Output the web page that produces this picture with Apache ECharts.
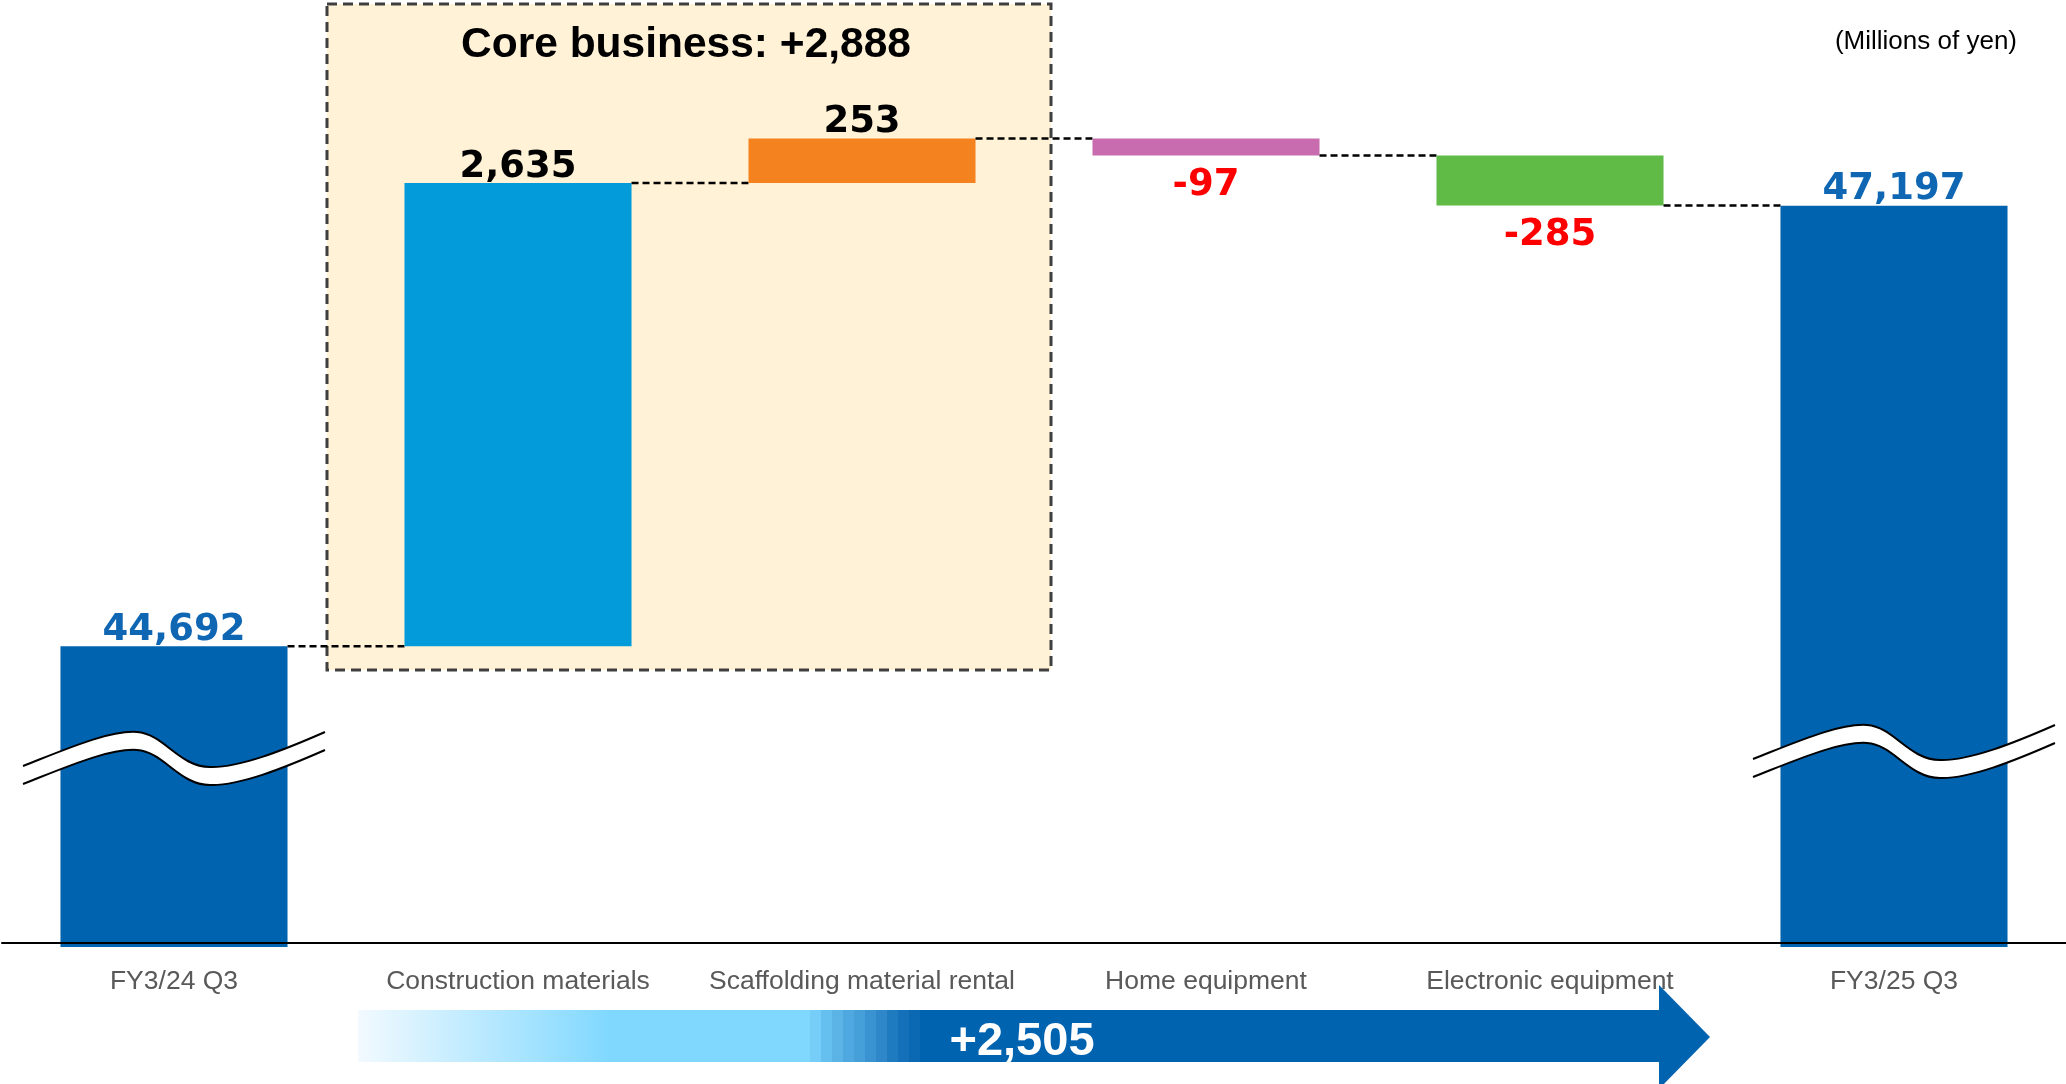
<!DOCTYPE html>
<html>
<head>
<meta charset="utf-8">
<script src="https://cdn.jsdelivr.net/npm/echarts@6/dist/echarts.min.js"></script>
<style>
html,body{margin:0;padding:0;background:#ffffff;}
#chart{width:2066px;height:1084px;}
</style>
</head>
<body>
<div id="chart"></div>
<script>
// ---- data ----
const categories = ['FY3/24 Q3', 'Construction materials', 'Scaffolding material rental', 'Home equipment', 'Electronic equipment', 'FY3/25 Q3'];
const startTotal = 44692;
const changes = [2635, 253, -97, -285];
const endTotal = 47197;
const coreLabel = 'Core business: +2,888';
const totalChangeLabel = '+2,505';
const unitLabel = '(Millions of yen)';

// ---- styles ----
const barColors = ['#0063B0', '#039BDA', '#F4821F', '#C86CAF', '#5FBB46', '#0063B0'];
const Y_MIN = 43005, Y_MAX = 48367;
const LABEL_FONT = 'bold 37px "DejaVu Sans", Verdana, sans-serif';

// build waterfall rows: [index, from, to, level]
const rows = [];
rows.push([0, Y_MIN, startTotal, startTotal]);
let run = startTotal;
changes.forEach(function (d, k) {
  const lo = run; run += d;
  rows.push([k + 1, lo, run, run]);
});
rows.push([categories.length - 1, Y_MIN, endTotal, endTotal]);

function labelFor(i) {
  if (i === 0) return { text: startTotal.toLocaleString('en-US'), color: '#0F66B3', above: true };
  if (i === categories.length - 1) return { text: endTotal.toLocaleString('en-US'), color: '#0F66B3', above: true };
  const d = changes[i - 1];
  return d >= 0 ? { text: d.toLocaleString('en-US'), color: '#000000', above: true }
                : { text: d.toLocaleString('en-US'), color: '#FF0000', above: false };
}

// break mark (wavy gap) shapes, relative to bar centre and axis line
const breakStyle = [{ dx: 0, dy: -177 }, { dx: 10, dy: -184 }];
function breakPaths(cx, y) {
  function P(px, py) { return (cx + px).toFixed(1) + ' ' + (y + py).toFixed(1); }
  const top = 'M' + P(-151, 0) + ' C' + P(-110, -16) + ' ' + P(-65, -36) + ' ' + P(-37, -34) +
              ' C' + P(-10, -32) + ' ' + P(5, 1) + ' ' + P(36, 1) +
              ' C' + P(65, 2) + ' ' + P(110, -16) + ' ' + P(151, -34);
  const bottom = 'M' + P(-151, 18) + ' C' + P(-110, 2) + ' ' + P(-65, -18) + ' ' + P(-37, -16) +
              ' C' + P(-10, -14) + ' ' + P(5, 19) + ' ' + P(36, 19) +
              ' C' + P(65, 20) + ' ' + P(110, 2) + ' ' + P(151, -16);
  const fill = top + ' L' + P(151, -16) + ' C' + P(110, 2) + ' ' + P(65, 20) + ' ' + P(36, 19) +
              ' C' + P(5, 19) + ' ' + P(-10, -14) + ' ' + P(-37, -16) +
              ' C' + P(-65, -18) + ' ' + P(-110, 2) + ' ' + P(-151, 18) + ' Z';
  return { top: top, bottom: bottom, fill: fill };
}

function renderItem(params, api) {
  const i = api.value(0), a = api.value(1), b = api.value(2), level = api.value(3);
  const band = api.size([1, 0])[0];
  const bw = band * 0.66;
  const pa = api.coord([i, a]), pb = api.coord([i, b]);
  const cx = pa[0], x0 = cx - bw / 2;
  let top = Math.min(pa[1], pb[1]);
  let bot = Math.max(pa[1], pb[1]);
  const isTotal = (i === 0 || i === categories.length - 1);
  if (isTotal) bot += 4;
  const kids = [{
    type: 'rect', shape: { x: x0, y: top, width: bw, height: bot - top },
    style: { fill: barColors[i] }
  }];
  // connector to next bar
  if (i < categories.length - 1) {
    const pn = api.coord([i + 1, level]);
    kids.push({
      type: 'line',
      shape: { x1: x0 + bw, y1: pn[1], x2: pn[0] - bw / 2, y2: pn[1] },
      style: { stroke: '#000000', lineWidth: 2.5, lineDash: [7, 4] }
    });
  }
  // value label
  const lb = labelFor(i);
  kids.push({
    type: 'text', x: cx, y: lb.above ? top - 16 : bot + 30, z2: 10,
    style: { text: lb.text, fill: lb.color, font: LABEL_FONT, align: 'center', verticalAlign: 'middle' }
  });
  // break marks on total bars
  if (isTotal) {
    const bs = breakStyle[i === 0 ? 0 : 1];
    const axisY = api.coord([i, Y_MIN])[1];
    const bp = breakPaths(cx + bs.dx, axisY + bs.dy);
    kids.push({ type: 'path', shape: { pathData: bp.fill }, style: { fill: '#ffffff', stroke: null }, z2: 5 });
    kids.push({ type: 'path', shape: { pathData: bp.top }, style: { fill: null, stroke: '#000000', lineWidth: 2 }, z2: 6 });
    kids.push({ type: 'path', shape: { pathData: bp.bottom }, style: { fill: null, stroke: '#000000', lineWidth: 2 }, z2: 6 });
  }
  return { type: 'group', children: kids };
}

// stepped gradient for the bottom arrow
function arrowStops() {
  const x0 = 358, w = 1302;
  const s = [];
  function add(px, c) { s.push({ offset: Math.min(1, (px - x0) / w), color: c }); }
  add(358, '#F2FAFF');
  add(610, '#80D8FF');
  add(810, '#80D8FF');
  const steps = ['#76CDF7', '#66C0EF', '#5BB3E6', '#4FA8DF', '#45A0DA', '#3A93D1', '#2D87C8', '#1F7BBF', '#1470B8', '#0B69B4'];
  let px = 810;
  steps.forEach(function (c) { add(px, c); add(px + 11, c); px += 11; });
  add(px, '#0063B0');
  add(1660, '#0063B0');
  return s;
}

const chart = echarts.init(document.getElementById('chart'), null, { renderer: 'canvas' });
chart.setOption({
  animation: false,
  backgroundColor: '#ffffff',
  grid: { left: 2, right: 0, top: 0, bottom: 141, containLabel: false },
  xAxis: {
    type: 'category', data: categories, z: 5,
    axisLine: { show: true, lineStyle: { color: '#000000', width: 2 } },
    axisTick: { show: false },
    axisLabel: { color: '#595959', fontSize: 26.5, fontFamily: '"Liberation Sans", Arial, sans-serif', margin: 25, interval: 0 },
    splitLine: { show: false }
  },
  yAxis: { type: 'value', min: Y_MIN, max: Y_MAX, show: false, splitLine: { show: false } },
  graphic: [
    { type: 'rect', z: 0, shape: { x: 327, y: 4, width: 724, height: 666 },
      style: { fill: '#FFF2D6', stroke: '#3F3F3F', lineWidth: 3, lineDash: [10, 6] } },
    { type: 'text', z: 10, x: 686, y: 45,
      style: { text: coreLabel, font: 'bold 42.5px "Liberation Sans", Arial, sans-serif', fill: '#000000', align: 'center', verticalAlign: 'middle' } },
    { type: 'text', z: 10, x: 2017, y: 42,
      style: { text: unitLabel, font: '26px "Liberation Sans", Arial, sans-serif', fill: '#000000', align: 'right', verticalAlign: 'middle' } },
    { type: 'rect', z: 1, shape: { x: 358, y: 1010, width: 1302, height: 52 },
      style: { fill: { type: 'linear', x: 0, y: 0, x2: 1, y2: 0, colorStops: arrowStops() } } },
    { type: 'polygon', z: 1, shape: { points: [[1659, 985], [1710, 1037], [1659, 1089]] },
      style: { fill: '#0063B0' } },
    { type: 'text', z: 10, x: 1022, y: 1042,
      style: { text: totalChangeLabel, font: 'bold 47px "Liberation Sans", Arial, sans-serif', fill: '#ffffff', align: 'center', verticalAlign: 'middle' } }
  ],
  series: [{
    type: 'custom', z: 2,
    renderItem: renderItem,
    encode: { x: 0, y: [1, 2] },
    data: rows,
    clip: false
  }]
});
</script>
</body>
</html>
